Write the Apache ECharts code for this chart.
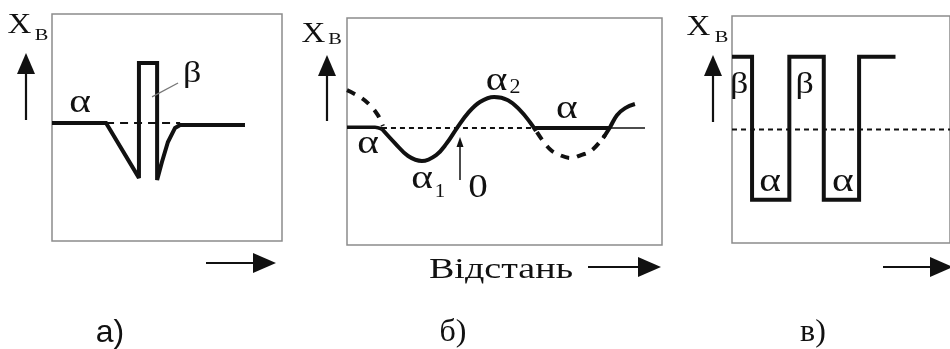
<!DOCTYPE html>
<html>
<head>
<meta charset="utf-8">
<script src="https://cdn.jsdelivr.net/npm/echarts@6/dist/echarts.min.js"></script>
<style>
  html, body { margin: 0; padding: 0; background: #fff; }
  #chart { width: 950px; height: 349px; }
</style>
</head>
<body>
<div id="chart"></div>
<script>
// ---- а) single β-phase particle inside the α matrix ----
const aDist = [0, 23.5, 37.8, 37.8, 45.7, 45.7, 47.8, 50.4, 53.5, 55.7, 83.9];
const aConc = [0, 0, -24.2, 26.4, 26.4, -25.1, -17.2, -8.4, -2.2, -0.9, -0.9];
const aRef = [[23.5, 0], [55.7, 0]];
const aLeader = [[43.5, 11.5], [54.8, 17.6]];

// ---- б) spinodal modulation α → α1 + α2 ----
const bFlatLeft = [[0, 0.4], [8.9, 0.4], [11.1, -0.4]];
const bWaveDist = [11.1, 15.2, 19.4, 23.8, 28.3, 31.7, 34.9, 38.4, 42.2, 46.7, 51.1, 54.9, 58.1, 60.0];
const bWaveConc = [-0.4, -6.6, -12.3, -14.5, -11.9, -6.6, 0, 6.6, 11.5, 13.7, 12.3, 7.9, 2.6, -1.3];
const bEarlierDist = [0, 4.1, 7.3, 9.8, 11.4];
const bEarlierConc = [16.7, 13.7, 10.1, 5.7, 0.9];
const bLaterDist = [60.3, 64.4, 67.6, 71.1, 74.3, 77.8, 81.9];
const bLaterConc = [-1.8, -9.3, -11.9, -13.2, -11.9, -9.7, -3.1];
const bRiseDist = [81.3, 83.5, 85.7, 88.3, 91.4];
const bRiseConc = [-4.4, 0.4, 5.7, 8.8, 10.6];
const bMean = [[11.1, 0], [59.7, 0]];
const bPlateau = [[59.7, 0], [83.5, 0]];
const bTail = [[83.5, 0], [94.6, 0]];

// ---- в) alternating β / α layers ----
const cDist = [0, 9.2, 9.2, 26.3, 26.3, 42.1, 42.1, 58.3, 58.3, 75];
const cConc = [32, 32, -31, -31, 32, 32, -31, -31, 32, 32];
const cMean = [[0, 0], [100, 0]];

// phase labels: [text, distance, concentration, font size, horizontal stretch]
const aLabels = [['α', 12.2, 8.6, 33, 1.25], ['β', 60.9, 21.6, 30, 1.2]];
const bLabels = [
  ['α', 6.7, -7.0, 33, 1.25], ['α', 23.8, -22.7, 33, 1.25], ['1', 29.5, -28.0, 19, 1.1],
  ['0', 41.6, -26.4, 34, 1.15], ['α', 47.5, 20.5, 33, 1.25], ['2', 53.3, 17.8, 20, 1.1],
  ['α', 69.8, 8.4, 33, 1.25]
];
const cLabels = [
  ['β', 3.3, 19.6, 30, 1.2], ['β', 33.3, 19.6, 30, 1.2],
  ['α', 17.5, -23.3, 33, 1.25], ['α', 50.8, -23.3, 33, 1.25]
];

const zip = (xs, ys) => xs.map((x, i) => [x, ys[i]]);
const INK = '#111';
const SERIF = 'Liberation Serif';
const SANS = 'Liberation Sans';

function lineSeries(grid, data, width, extra) {
  return Object.assign({
    type: 'line', xAxisIndex: grid, yAxisIndex: grid, data: data,
    symbol: 'none', silent: true, animation: false,
    lineStyle: { color: INK, width: width, cap: 'butt', join: 'miter', miterLimit: 2 }
  }, extra || {});
}
function dashed(grid, data, width, dash, extra) {
  const s = lineSeries(grid, data, width, extra);
  s.lineStyle.type = dash;
  return s;
}

const grids = [
  { left: 52, top: 14, width: 230, height: 227, y: [-52, 48] },
  { left: 347, top: 18, width: 315, height: 227, y: [-51.5, 48.5] },
  { left: 732, top: 16, width: 240, height: 227, y: [-50, 50] }
];

// arrow helpers for the axis direction marks
function arrowUp(x, tip, bottom) {
  return [
    { type: 'line', shape: { x1: x, y1: tip + 18, x2: x, y2: bottom }, style: { stroke: INK, lineWidth: 2.2 } },
    { type: 'polygon', shape: { points: [[x, tip], [x - 9, tip + 21], [x + 9, tip + 21]] }, style: { fill: INK } }
  ];
}
function arrowRight(x0, tip, y) {
  return [
    { type: 'line', shape: { x1: x0, y1: y, x2: tip - 18, y2: y }, style: { stroke: INK, lineWidth: 2.2 } },
    { type: 'polygon', shape: { points: [[tip, y], [tip - 23, y - 10], [tip - 23, y + 10]] }, style: { fill: INK } }
  ];
}
function text(t, x, y, size, family, sx) {
  return {
    type: 'text', x: x, y: y, scaleX: sx || 1, silent: true, z: 10,
    style: {
      text: t, fill: INK, fontSize: size, fontFamily: family || SERIF,
      align: 'center', verticalAlign: 'middle'
    }
  };
}

const option = {
  animation: false,
  backgroundColor: '#fff',
  grid: grids.map(g => ({
    left: g.left, top: g.top, width: g.width, height: g.height,
    show: true, borderColor: '#8c8c8c', borderWidth: 1.5, backgroundColor: 'transparent'
  })),
  xAxis: grids.map((g, i) => ({ type: 'value', gridIndex: i, min: 0, max: 100, show: false })),
  yAxis: grids.map((g, i) => ({ type: 'value', gridIndex: i, min: g.y[0], max: g.y[1], show: false })),
  series: [
    // а)
    dashed(0, aRef, 2, [8, 6]),
    lineSeries(0, zip(aDist, aConc), 4),
    lineSeries(0, aLeader, 1.3, { lineStyle: { color: '#777', width: 1.3 } }),
    // б)
    dashed(1, bMean, 2, [5, 4]),
    lineSeries(1, bTail, 1.5),
    lineSeries(1, bPlateau, 4),
    dashed(1, zip(bEarlierDist, bEarlierConc), 4, [9, 8], { smooth: 0.4 }),
    dashed(1, zip(bLaterDist, bLaterConc), 4, [9, 8], { smooth: 0.4 }),
    lineSeries(1, bFlatLeft, 3.5, { smooth: 0.3 }),
    lineSeries(1, zip(bWaveDist, bWaveConc), 4, { smooth: 0.4 }),
    lineSeries(1, zip(bRiseDist, bRiseConc), 4, { smooth: 0.4 }),
    // в)
    dashed(2, cMean, 2, [5, 4]),
    lineSeries(2, zip(cDist, cConc), 4)
  ]
};

const chart = echarts.init(document.getElementById('chart'), null, { renderer: 'canvas' });
chart.setOption(option);

// phase labels are anchored through each panel's own axes
function placeLabels(grid, items) {
  return items.map(([t, x, y, fs, sx]) => {
    const p = chart.convertToPixel({ gridIndex: grid }, [x, y]);
    return text(t, p[0], p[1], fs, SERIF, sx);
  });
}

const graphics = [].concat(
  arrowUp(26, 53, 120), arrowRight(206, 276, 263),
  arrowUp(327, 55, 121), arrowRight(588, 661, 267),
  arrowUp(713, 55, 122), arrowRight(883, 953, 267),
  [
    { type: 'line', shape: { x1: 460, y1: 145, x2: 460, y2: 180 }, style: { stroke: INK, lineWidth: 1.5 } },
    { type: 'polygon', shape: { points: [[460, 137], [456.5, 147], [463.5, 147]] }, style: { fill: INK } },
    text('X', 19.5, 25, 30, SERIF, 1.1), text('В', 41.5, 36, 17, SERIF, 1.2),
    text('X', 313.5, 34.5, 30, SERIF, 1.1), text('В', 335, 39.5, 17, SERIF, 1.2),
    text('X', 698.5, 27, 30, SERIF, 1.1), text('В', 721.5, 37.5, 17, SERIF, 1.2),
    text('Відстань', 501, 270, 30, SERIF, 1.27),
    text('а)', 110, 333, 32, SANS),
    text('б)', 453, 333, 32), text('в)', 813, 333, 32)
  ],
  placeLabels(0, aLabels),
  placeLabels(1, bLabels),
  placeLabels(2, cLabels)
);

chart.setOption({ graphic: graphics });
</script>
</body>
</html>
